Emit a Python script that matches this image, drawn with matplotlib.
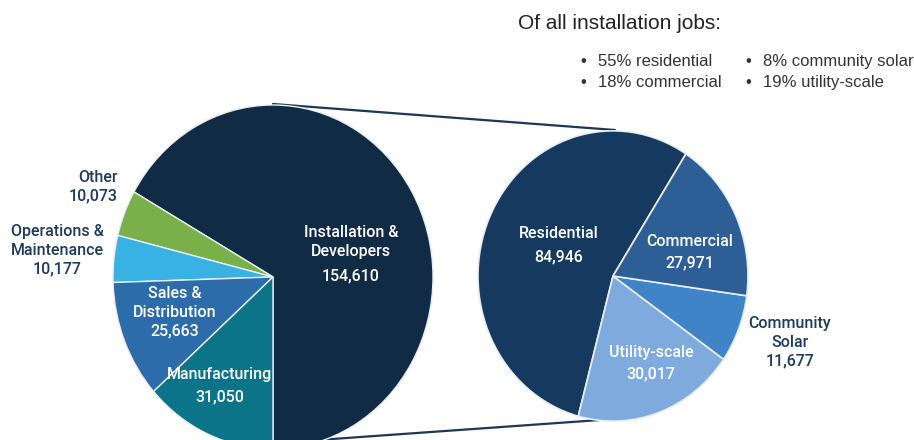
import matplotlib.pyplot as plt

# all solar jobs by sector
sectors = ["Installation &\nDevelopers", "Other", "Operations &\nMaintenance",
           "Sales &\nDistribution", "Manufacturing"]
sector_jobs = [154610, 10073, 10177, 25663, 31050]
sector_colors = ["#122b44", "#7ab04a", "#38b2e3", "#2d6cab", "#0b7488"]

# installation jobs by market segment
segments = ["Residential", "Utility-scale", "Community\nSolar", "Commercial"]
segment_jobs = [84946, 30017, 11677, 27971]
segment_colors = ["#163a5f", "#7faadd", "#3f84c6", "#2d5f96"]

shares = ["55% residential", "18% commercial", "8% community solar", "19% utility-scale"]

W, H = 914, 440
K = 1.075  # vertical stretch of the pies

fig = plt.figure(figsize=(W / 100, H / 100), dpi=100)
ax = fig.add_axes([0, 0, 1, 1])


def px(x, y):
    return x, (H - y) / K


left_c = px(273, 277)
right_c = px(613, 276)

ax.pie(sector_jobs, colors=sector_colors, startangle=-90, counterclock=True,
       center=left_c, radius=160, frame=True,
       wedgeprops=dict(edgecolor="#e8eef2", linewidth=1))
ax.pie(segment_jobs, colors=segment_colors, startangle=57.3, counterclock=True,
       center=right_c, radius=135, frame=True,
       wedgeprops=dict(edgecolor="#e8eef2", linewidth=1.2))

ax.set_xlim(0, W)
ax.set_ylim(0, H / K)
ax.set_aspect("auto")
ax.axis("off")

# connector lines between the two pies
line_kw = dict(color="#1d3857", linewidth=1.6, solid_capstyle="round", zorder=0)
ax.plot(*zip(px(273, 104), px(615, 130)), **line_kw)
ax.plot(*zip(px(290, 442), px(600, 420)), **line_kw)

lab = dict(family="Roboto", fontweight="medium", fontsize=11.5, ha="center",
           va="center", linespacing=1.3)
white = dict(lab, color="white")
navy = dict(lab, color="#1f3a5f")


def put(x, y, s, **kw):
    ax.text(*px(x, y), s, **kw)


# left pie labels
put(351, 242, sectors[0], **white)
put(351, 276, f"{sector_jobs[0]:,}", **white)
put(118, 187, f"{sectors[1]}\n{sector_jobs[1]:,}", **dict(navy, ha="right"))
put(57, 250, f"{sectors[2]}\n{sector_jobs[2]:,}", **navy)
put(175, 312, f"{sectors[3]}\n{sector_jobs[3]:,}", **white)
put(220, 386, f"{sectors[4]}\n{sector_jobs[4]:,}", **dict(white, linespacing=1.65))

# right pie labels
put(559, 245, f"{segments[0]}\n{segment_jobs[0]:,}", **dict(white, linespacing=1.75))
put(690, 252, f"{segments[3]}\n{segment_jobs[3]:,}", **dict(white, linespacing=1.55))
put(651, 363, f"{segments[1]}\n{segment_jobs[1]:,}", **dict(white, linespacing=1.55))
put(790, 342, f"{segments[2]}\n{segment_jobs[2]:,}", **navy)

# summary text
put(518, 23, "Of all installation jobs:", family="Liberation Sans", fontsize=15,
    color="#222222", ha="left", va="center")
txt = dict(family="Liberation Sans", fontsize=12, color="#333333", ha="left", va="center")
for i, s in enumerate(shares):
    col, row = divmod(i, 2)
    bx = 580 + col * 165
    by = 61 + row * 21
    put(bx, by, "\u2022", **txt)
    put(bx + 18, by, s, **txt)

fig.savefig("out.png", dpi=100)
